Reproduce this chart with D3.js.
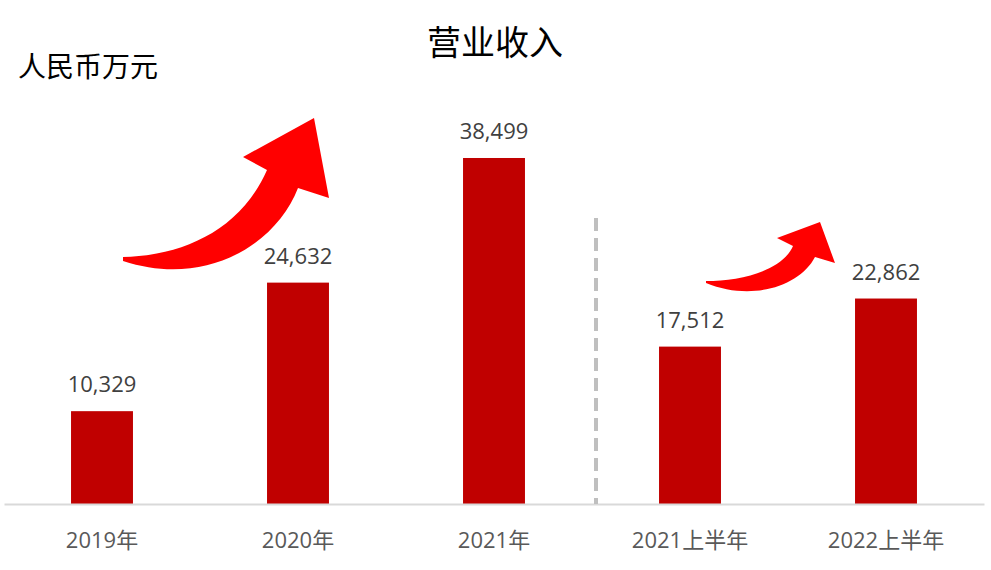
<!DOCTYPE html>
<html><head><meta charset="utf-8">
<script src="https://cdn.jsdelivr.net/npm/d3@7"></script>
<style>
html,body{margin:0;padding:0;background:#fff;}
svg text{font-family:"Open Sans","Noto Sans CJK SC",sans-serif;}
</style></head>
<body>
<svg id="c" width="991" height="570"></svg>
<script>
const categories = ["2019年","2020年","2021年","2021上半年","2022上半年"];
const revenue = [10329, 24632, 38499, 17512, 22862];
const title = "营业收入";
const unitLabel = "人民币万元";

const svg = d3.select("#c");
const baseY = 504;
const x = d3.scaleBand().domain(categories).range([4, 984]).paddingInner(0.684).paddingOuter(0.342);
const y = d3.scaleLinear().domain([0, 40000]).range([baseY, 144.5]);

// bars
svg.selectAll("rect.bar").data(revenue).join("rect")
  .attr("class","bar")
  .attr("x",(d,i)=>x(categories[i]))
  .attr("width",x.bandwidth())
  .attr("y",d=>y(d))
  .attr("height",d=>baseY-y(d))
  .attr("fill","#c00000");

// axis
const ax = svg.append("g").attr("transform",`translate(0,${baseY})`)
  .call(d3.axisBottom(x).tickSize(0).tickPadding(28));
ax.select(".domain").attr("stroke","#d9d9d9").attr("stroke-width",2);
ax.selectAll("text").attr("font-size",22).attr("fill","#595959")
  .attr("font-family","'Open Sans','Noto Sans CJK SC',sans-serif");

// value labels
const fmt = d3.format(",");
svg.selectAll("text.val").data(revenue).join("text")
  .attr("class","val")
  .attr("x",(d,i)=>x(categories[i])+x.bandwidth()/2)
  .attr("y",d=>y(d)-19)
  .attr("text-anchor","middle")
  .attr("font-size",22)
  .attr("fill","#404040")
  .text(d=>fmt(d));

// dashed separator between annual and half-year
const sepX = (x(categories[2])+x.bandwidth() + x(categories[3]))/2 + 4;
svg.append("line").attr("x1",sepX).attr("x2",sepX).attr("y1",218).attr("y2",baseY)
  .attr("stroke","#bfbfbf").attr("stroke-width",4).attr("stroke-dasharray","13,7");

// title & unit
svg.append("text").attr("x",495).attr("y",55).attr("text-anchor","middle")
  .attr("font-size",34).attr("fill","#000")
  .attr("font-family","'Noto Sans CJK SC',sans-serif").text(title);
svg.append("text").attr("x",18).attr("y",77)
  .attr("font-size",28).attr("fill","#000")
  .attr("font-family","'Noto Sans CJK SC',sans-serif").text(unitLabel);

// decorative growth arrows
const arrows = [
  "M123,257 C180,256 240,232 267,170 L243,157 L314,118 L329,198 L298,188 C276,245 205,288 123,261 Z",
  "M706,281 C740,281 782,271 793,246 L777,238 L820,222 L835,263 L815,257 C800,286 752,302 706,283 Z"
];
svg.selectAll("path.arrow").data(arrows).join("path")
  .attr("class","arrow").attr("d",d=>d).attr("fill","#ff0000");
</script>
</body></html>
